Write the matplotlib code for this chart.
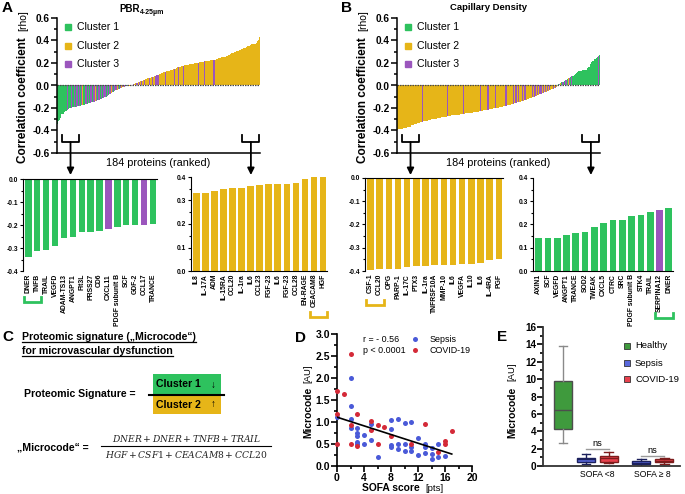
"""Proteomic signature figure: ranked correlations (A, B), microcode
definition (C), microcode vs SOFA (D) and microcode by group (E)."""
import numpy as np
import matplotlib
matplotlib.use('Agg')
import matplotlib.pyplot as plt
from matplotlib.lines import Line2D
from matplotlib.patches import Rectangle
from matplotlib.ticker import MultipleLocator, FormatStrFormatter
from matplotlib.transforms import blended_transform_factory

plt.rcParams['font.family'] = ['Liberation Sans', 'DejaVu Sans']
plt.rcParams['font.weight'] = 'bold'
plt.rcParams['axes.unicode_minus'] = False
# serif italic (non-bold) maths for the microcode formula
plt.rcParams['mathtext.it'] = 'DejaVu Serif:style=italic:weight=normal'
plt.rcParams['mathtext.rm'] = 'DejaVu Serif:weight=normal'

W, H = 685, 494

GREEN = '#2ec25e'
YELLOW = '#e6b518'
PURPLE = '#9b56bd'
CLUSTER_COL = {'G': GREEN, 'Y': YELLOW, 'P': PURPLE}

# ---- Panel A: 184 proteins ranked by rho vs PBR ----
A_RHO = [
    -0.34, -0.315, -0.31, -0.29, -0.255, -0.25, -0.232, -0.23, -0.226, -0.216, -0.21, -0.202, -0.2, -0.199, -0.195,
    -0.19, -0.19, -0.188, -0.185, -0.183, -0.18, -0.178, -0.175, -0.172, -0.17, -0.168, -0.165, -0.162, -0.16, -0.158,
    -0.155, -0.15, -0.147, -0.143, -0.14, -0.137, -0.133, -0.13, -0.127, -0.122, -0.118, -0.113, -0.108, -0.103, -0.098,
    -0.092, -0.085, -0.078, -0.072, -0.066, -0.06, -0.054, -0.048, -0.043, -0.038, -0.033, -0.028, -0.024, -0.02, -0.016,
    -0.013, -0.01, -0.008, -0.006, -0.004, -0.002, 0.002, 0.005, 0.008, 0.012, 0.016, 0.02, 0.024, 0.028, 0.032,
    0.036, 0.04, 0.044, 0.048, 0.052, 0.056, 0.06, 0.064, 0.068, 0.07, 0.072, 0.074, 0.076, 0.08, 0.085,
    0.09, 0.095, 0.1, 0.105, 0.11, 0.114, 0.118, 0.121, 0.124, 0.127, 0.13, 0.132, 0.134, 0.136, 0.14,
    0.143, 0.147, 0.15, 0.155, 0.16, 0.163, 0.166, 0.17, 0.173, 0.176, 0.178, 0.18, 0.182, 0.184, 0.186,
    0.188, 0.19, 0.192, 0.194, 0.196, 0.198, 0.2, 0.202, 0.204, 0.206, 0.208, 0.21, 0.212, 0.214, 0.216,
    0.218, 0.22, 0.221, 0.222, 0.223, 0.224, 0.225, 0.226, 0.228, 0.232, 0.236, 0.24, 0.243, 0.246, 0.25,
    0.252, 0.254, 0.256, 0.258, 0.262, 0.268, 0.275, 0.282, 0.288, 0.293, 0.297, 0.3, 0.303, 0.306, 0.309,
    0.312, 0.316, 0.32, 0.325,
    0.33, 0.33, 0.34, 0.35, 0.352, 0.355, 0.363, 0.367, 0.369, 0.37, 0.372, 0.376, 0.393, 0.40, 0.43,
]
A_CLUSTER = (
    "GGGGGGGGGPGGGPG" "PGPPGPGPYGPPGPG" "PPGPYPGPPGPGPPG" "PGPPYPGPPYPGPYP"
    "YPGPYYPPYPYYPYP" "YPYYPYYYPYYPYYP" "PPYYYYYYPYYYYYY" "YPYYYPYYYPYYYYY"
    "YYYYYYYYPYYYYPY" "YYYYYYPPYYYYYYY" "YYYYYYYYYYYYYYY" "YYYY" "YYYYYYYYYYYYYYY"
)

# ---- Panel B: 184 proteins ranked by rho vs capillary density ----
B_RHO = [
    -0.397, -0.39, -0.39, -0.39, -0.383, -0.378, -0.378, -0.376, -0.375, -0.373, -0.37, -0.368, -0.367, -0.353, -0.347,
    -0.345, -0.342, -0.34, -0.337, -0.334, -0.33, -0.327, -0.325, -0.322, -0.32, -0.318, -0.315, -0.313, -0.31, -0.307,
    -0.305, -0.302, -0.3, -0.298, -0.296, -0.294, -0.292, -0.29, -0.288, -0.286, -0.284, -0.282, -0.28, -0.278, -0.276,
    -0.274, -0.272, -0.27, -0.268, -0.266, -0.265, -0.264, -0.263, -0.262, -0.261, -0.26, -0.258, -0.256, -0.254, -0.252,
    -0.25, -0.249, -0.248, -0.247, -0.246, -0.245, -0.244, -0.243, -0.242, -0.24, -0.238, -0.236, -0.234, -0.232, -0.23,
    -0.228, -0.226, -0.224, -0.222, -0.22, -0.218, -0.216, -0.214, -0.212, -0.21, -0.208, -0.206, -0.204, -0.202, -0.2,
    -0.198, -0.196, -0.194, -0.192, -0.19, -0.188, -0.186, -0.184, -0.182, -0.18, -0.177, -0.174, -0.171, -0.168, -0.165,
    -0.162, -0.158, -0.155, -0.152, -0.149, -0.146, -0.143, -0.14, -0.137, -0.134, -0.131, -0.128, -0.125, -0.122, -0.118,
    -0.114, -0.11, -0.106, -0.102, -0.098, -0.094, -0.09, -0.086, -0.082, -0.078, -0.074, -0.07, -0.066, -0.062, -0.058,
    -0.054, -0.05, -0.046, -0.042, -0.038, -0.034, -0.03, -0.025, -0.018, -0.01, 0.004, 0.01, 0.016, 0.022, 0.028,
    0.034, 0.04, 0.046, 0.052, 0.058, 0.064, 0.07, 0.076, 0.082, 0.088, 0.094, 0.1, 0.11, 0.12, 0.125,
    0.128, 0.13, 0.133, 0.136,
    0.14, 0.14, 0.142, 0.155, 0.165, 0.168, 0.19, 0.205, 0.218, 0.22, 0.235, 0.243, 0.252, 0.262, 0.272,
]
B_CLUSTER = (
    "YYYYYYYYYYYYYYY" "YYYYYYYYPYYYYYY" "YYYYYYYYYYYYYYY" "PYYYYYYYYYYYYYY"
    "PYYYYYYYYYYYYYY" "PYYYYYYPYYYYYYP" "YYYYYYYYPPYYYYY" "PYPPYPYYPYPPYYY"
    "YYPYPPYPYPPYPYP" "YPYPYYPYPYPGPYG" "PGPPGYPGPGGGGGG" "GGGG" "GGGGGGGGGGGGGPG"
)

# ---- zoomed-in top/bottom 15 proteins ----
A_LOW_NAMES = ['DNER', 'TNFB', 'TRAIL', 'VEGFD', 'ADAM-TS13', 'ANGPT1', 'Flt3L', 'PRSS27',
               'CD6', 'CXCL11', 'PDGF subunit B', 'SCF', 'GDF-2', 'CCL17', 'TRANCE']
A_LOW_RHO = [-0.34, -0.315, -0.31, -0.29, -0.255, -0.25, -0.232, -0.23, -0.226, -0.216,
             -0.21, -0.202, -0.2, -0.199, -0.195]
A_LOW_CLUSTER = "GGGGGGGGGPGGGPG"

A_HIGH_NAMES = ['IL8', 'IL-17A', 'ADM', 'IL-15RA', 'CCL20', 'IL-1ra', 'IL6', 'CCL23', 'FGF-23',
                'IL6', 'FGF-23', 'CCL28', 'EN-RAGE', 'CEACAM8', 'HGF']
A_HIGH_RHO = [0.33, 0.33, 0.34, 0.35, 0.352, 0.355, 0.363, 0.367, 0.369, 0.37, 0.372,
              0.376, 0.393, 0.40, 0.40]
A_HIGH_CLUSTER = "YYYYYYYYYYYYYYY"

B_LOW_NAMES = ['CSF-1', 'CCL20', 'OPG', 'PARP-1', 'IL-17C', 'PTX3', 'IL-1ra', 'TNFRSF10A',
               'MMP-10', 'IL6', 'VEGFA', 'IL10', 'IL6', 'IL-4RA', 'PGF']
B_LOW_RHO = [-0.397, -0.39, -0.39, -0.39, -0.383, -0.378, -0.378, -0.376, -0.375, -0.373,
             -0.37, -0.368, -0.367, -0.353, -0.347]
B_LOW_CLUSTER = "YYYYYYYYYYYYYYY"

B_HIGH_NAMES = ['AXIN1', 'SCF', 'VEGFD', 'ANGPT1', 'TRANCE', 'SOD2', 'TWEAK', 'CXCL5', 'CTRC',
                'SRC', 'PDGF subunit B', 'STK4', 'TRAIL', 'SERPINA12', 'DNER']
B_HIGH_RHO = [0.14, 0.14, 0.142, 0.155, 0.165, 0.168, 0.19, 0.205, 0.218, 0.22, 0.235,
              0.243, 0.252, 0.262, 0.272]
B_HIGH_CLUSTER = "GGGGGGGGGGGGGPG"

# ---- Panel D: microcode vs SOFA ----
SEPSIS_SOFA = [0, 2, 2, 2, 2, 3, 3, 3, 3, 3, 4, 4, 5, 5, 6, 8, 8, 8, 8, 9, 9, 9, 10, 10, 10,
               11, 11, 11, 12, 12, 13, 13, 13, 14, 14, 14, 15, 15, 16]
SEPSIS_MC = [1.12, 2.0, 1.37, 1.06, 0.87, 0.87, 0.75, 0.68, 0.55, 0.5, 0.7, 0.51, 0.95, 0.6,
             0.2, 1.04, 0.85, 0.48, 0.43, 1.06, 0.49, 0.39, 0.98, 0.49, 0.34, 1.01, 0.43, 0.33,
             0.64, 0.24, 0.51, 0.43, 0.3, 0.4, 0.27, 0.16, 0.5, 0.2, 0.22]
COVID_SOFA = [0, 1, 0, 0, 2, 2, 2, 3, 3, 5, 5, 6, 6, 7, 8, 11, 13, 15, 16, 16, 17]
COVID_MC = [1.71, 1.63, 1.18, 0.49, 2.55, 0.94, 0.49, 1.18, 0.46, 1.02, 0.81, 0.93, 0.51,
            0.89, 0.68, 0.49, 0.96, 0.32, 0.56, 0.49, 0.8]

# ---- Panel E: microcode by group ----
E_POS = [0, 1, 2, 3.4, 4.4]
E_GROUP = ['Healthy', 'Sepsis', 'COVID-19', 'Sepsis', 'COVID-19']
E_LO = [2.7, 0.19, 0.38, 0.0, 0.27]
E_Q1 = [4.3, 0.46, 0.46, 0.27, 0.42]
E_MED = [6.5, 0.75, 0.96, 0.38, 0.61]
E_Q3 = [9.75, 0.96, 1.19, 0.54, 0.77]
E_HI = [13.8, 1.34, 1.61, 0.84, 0.96]
E_FACE = {'Healthy': '#3f9a3d', 'Sepsis': '#5968dc', 'COVID-19': '#e8414d'}
E_EDGE = {'Healthy': '#4d4d4d', 'Sepsis': '#1b205c', 'COVID-19': '#7d1c1c'}


def px_axes(fig, x0, y0, x1, y1):
    return fig.add_axes([x0 / W, 1 - y1 / H, (x1 - x0) / W, (y1 - y0) / H])


def fy(y_px):
    return 1 - y_px / H


def ftext(fig, x_px, y_px, s, **kw):
    return fig.text(x_px / W, fy(y_px), s, **kw)


def ranked_panel(fig, ax, rho, clusters, leg_x):
    x = np.arange(len(rho))
    ax.bar(x, rho, width=1.0, color=[CLUSTER_COL[c] for c in clusters], linewidth=0)
    ax.axhline(0, color='#4a4a4a', lw=0.9, ls=(0, (1.2, 0.8)))
    ax.set_xlim(-0.5, len(rho) - 0.5)
    ax.set_ylim(-0.6, 0.6)
    ax.spines[['top', 'right']].set_visible(False)
    for sp in ax.spines.values():
        sp.set_linewidth(1.1)
    ax.set_xticks([])
    ax.yaxis.set_major_locator(MultipleLocator(0.2))
    ax.yaxis.set_minor_locator(MultipleLocator(0.1))
    ax.yaxis.set_major_formatter(FormatStrFormatter('%.1f'))
    ax.tick_params(axis='y', which='major', length=4, width=1.1, labelsize=7.2, pad=1)
    ax.tick_params(axis='y', which='minor', length=2.5, width=1.1)
    # cluster legend
    for k, (c, ya) in enumerate(zip('GYP', [0.933, 0.795, 0.657])):
        ax.plot([leg_x], [ya], 's', ms=4.8, color=CLUSTER_COL[c], transform=ax.transAxes,
                clip_on=False)
        ax.text(leg_x + 0.045, ya, f'Cluster {k + 1}', transform=ax.transAxes, fontsize=7.6,
                fontweight='normal', va='center', ha='left')
    # brackets and arrows toward the zoomed panels
    tr = blended_transform_factory(ax.transData, fig.transFigure)
    n = len(rho)
    for i0, i1 in [(4, 19.5), (n - 16.5, n - 1)]:
        ax.plot([i0, i0, i1, i1], [fy(135), fy(142), fy(142), fy(135)], color='black',
                lw=1.3, transform=tr, clip_on=False)
        cx = (i0 + i1) / 2
        ax.annotate('', xy=(cx, fy(175)), xytext=(cx, fy(142)), xycoords=tr, textcoords=tr,
                    arrowprops=dict(arrowstyle='-|>', color='black', lw=1.3,
                                    mutation_scale=10, shrinkA=0, shrinkB=0),
                    annotation_clip=False)


def zoom_panel(ax, rho, names, clusters, negative):
    x = np.arange(len(rho))
    ax.bar(x, rho, width=0.72, color=[CLUSTER_COL[c] for c in clusters], linewidth=0)
    ax.set_xlim(-0.6, len(rho) - 0.55)
    if negative:
        ax.set_ylim(-0.4, 0)
        ax.spines[['bottom', 'right']].set_visible(False)
    else:
        ax.set_ylim(0, 0.4)
        ax.spines[['top', 'right']].set_visible(False)
    for sp in ax.spines.values():
        sp.set_linewidth(0.8)
    ax.set_xticks(x)
    ax.set_xticklabels(names, rotation=90, fontsize=4.9, fontweight='bold')
    ax.tick_params(axis='x', length=0, pad=2)
    ax.yaxis.set_major_locator(MultipleLocator(0.1))
    ax.yaxis.set_minor_locator(MultipleLocator(0.05))
    ax.yaxis.set_major_formatter(FormatStrFormatter('%.1f'))
    ax.tick_params(axis='y', which='major', length=2.5, width=0.8, labelsize=4.8, pad=1)
    ax.tick_params(axis='y', which='minor', length=1.5, width=0.8)


def color_bracket(fig, ax, i0, i1, y_px, color):
    tr = blended_transform_factory(ax.transData, fig.transFigure)
    ax.plot([i0 - 0.45, i0 - 0.45, i1 + 0.45, i1 + 0.45],
            [fy(y_px - 5), fy(y_px), fy(y_px), fy(y_px - 5)],
            color=color, lw=2.0, transform=tr, clip_on=False, solid_joinstyle='miter')


def main():
    fig = plt.figure(figsize=(W / 100, H / 100), dpi=100)

    # panel letters
    for s, x, y in [('A', 7, 8), ('B', 346, 8), ('C', 8, 337), ('D', 300, 338), ('E', 502, 337)]:
        ftext(fig, x, y, s, fontsize=11, ha='center', va='center')

    # ---------------- A / B top ranked bars ----------------
    for off, rho, clus in [(0, A_RHO, A_CLUSTER), (340, B_RHO, B_CLUSTER)]:
        ax = px_axes(fig, 57 + off, 18, 260 + off, 153)
        ranked_panel(fig, ax, rho, clus, 0.052)
        ftext(fig, 23 + off, 163, 'Correlation coefficient', rotation=90, fontsize=8.5,
              ha='center', va='bottom')
        ftext(fig, 23 + off, 31, '[rho]', rotation=90, fontsize=7.5, fontweight='normal',
              ha='center', va='bottom')
        ftext(fig, 158 + off, 163, '184 proteins (ranked)', fontsize=7.8, fontweight='normal',
              ha='center', va='center')

    ftext(fig, 140, 9, 'PBR', fontsize=7, ha='right', va='center')
    ftext(fig, 140, 13, '4-25µm', fontsize=5, ha='left', va='center')
    ftext(fig, 489, 8, 'Capillary Density', fontsize=6.8, ha='center', va='center')

    # ---------------- zoomed bottom/top 15 ----------------
    ax = px_axes(fig, 23, 179, 157, 271)
    zoom_panel(ax, A_LOW_RHO, A_LOW_NAMES, A_LOW_CLUSTER, True)
    color_bracket(fig, ax, 0, 1, 302, GREEN)

    ax = px_axes(fig, 191, 177, 327, 271)
    zoom_panel(ax, A_HIGH_RHO, A_HIGH_NAMES, A_HIGH_CLUSTER, False)
    color_bracket(fig, ax, 13, 14, 317, YELLOW)

    ax = px_axes(fig, 365, 178, 503, 271)
    zoom_panel(ax, B_LOW_RHO, B_LOW_NAMES, B_LOW_CLUSTER, True)
    color_bracket(fig, ax, 0, 1, 305, YELLOW)

    ax = px_axes(fig, 533, 178, 673, 271)
    zoom_panel(ax, B_HIGH_RHO, B_HIGH_NAMES, B_HIGH_CLUSTER, False)
    color_bracket(fig, ax, 13, 14, 318, GREEN)

    # ---------------- C: signature definition ----------------
    t1 = ftext(fig, 22, 337, 'Proteomic signature („Microcode“)', fontsize=7.6, va='center')
    t2 = ftext(fig, 22, 351, 'for microvascular dysfunction', fontsize=7.6, va='center')
    ftext(fig, 24, 394, 'Proteomic Signature =', fontsize=7.6, va='center')
    fig.patches.append(Rectangle((153 / W, fy(394)), 68 / W, 20 / H, transform=fig.transFigure,
                                 facecolor=GREEN, edgecolor='none'))
    fig.patches.append(Rectangle((153 / W, fy(414)), 68 / W, 20 / H, transform=fig.transFigure,
                                 facecolor=YELLOW, edgecolor='none'))
    fig.lines.append(Line2D([149 / W, 224 / W], [fy(394.5)] * 2, color='black', lw=1.5,
                            transform=fig.transFigure))
    ftext(fig, 156, 384, 'Cluster 1', fontsize=7.6, va='center')
    ftext(fig, 156, 405, 'Cluster 2', fontsize=7.6, va='center')
    ftext(fig, 213, 385, '↓', fontsize=7, fontweight='normal', va='center', ha='center')
    ftext(fig, 213, 404, '↑', fontsize=7, fontweight='normal', va='center', ha='center')

    ftext(fig, 17, 447, '„Microcode“ =', fontsize=7.6, va='center')
    ftext(fig, 186, 438, r'$DNER + DNER + TNFB + TRAIL$', fontsize=6.6, fontweight='normal',
          ha='center', va='center', math_fontfamily='custom', color='#222222')
    ftext(fig, 186, 454, r'$HGF + CSF1 + CEACAM8 + CCL20$', fontsize=6.6, fontweight='normal',
          ha='center', va='center', math_fontfamily='custom', color='#222222')
    fig.lines.append(Line2D([101 / W, 271 / W], [fy(446)] * 2, color='black', lw=0.8,
                            transform=fig.transFigure))

    # ---------------- D: scatter ----------------
    ax = px_axes(fig, 337, 334, 472, 466)
    ax.scatter(SEPSIS_SOFA, SEPSIS_MC, s=13, color='#4a5ad8', linewidths=0, clip_on=False,
               zorder=3)
    ax.scatter(COVID_SOFA, COVID_MC, s=13, color='#d42a38', linewidths=0, clip_on=False,
               zorder=3)
    xs = np.array(SEPSIS_SOFA + COVID_SOFA, dtype=float)
    ys = np.array(SEPSIS_MC + COVID_MC)
    slope, icpt = np.polyfit(xs, ys, 1)
    xl = np.array([xs.min(), xs.max()])
    ax.plot(xl, icpt + slope * xl, color='black', lw=1.2, zorder=4)
    ax.set_xlim(0, 20)
    ax.set_ylim(0, 3)
    ax.spines[['top', 'right']].set_visible(False)
    for sp in ax.spines.values():
        sp.set_linewidth(1.2)
    ax.xaxis.set_major_locator(MultipleLocator(4))
    ax.xaxis.set_minor_locator(MultipleLocator(2))
    ax.yaxis.set_major_locator(MultipleLocator(0.5))
    ax.yaxis.set_minor_locator(MultipleLocator(0.25))
    ax.yaxis.set_major_formatter(FormatStrFormatter('%.1f'))
    ax.tick_params(which='major', length=4, width=1.2, labelsize=7.5, pad=1)
    ax.tick_params(which='minor', length=2.5, width=1.2)
    ftext(fig, 363, 339, 'r = - 0.56', fontsize=6.4, fontweight='normal', va='center')
    ftext(fig, 363, 350, 'p < 0.0001', fontsize=6.4, fontweight='normal', va='center')
    for y_px, col, lab in [(339, '#4a5ad8', 'Sepsis'), (350, '#d42a38', 'COVID-19')]:
        fig.lines.append(Line2D([415 / W], [fy(y_px)], marker='o', ms=3.6, color=col, mew=0,
                                transform=fig.transFigure))
        ftext(fig, 430, y_px, lab, fontsize=6.4, fontweight='normal', va='center')
    ftext(fig, 308, 438, 'Microcode', rotation=90, fontsize=7.4, ha='center', va='bottom')
    ftext(fig, 308, 383, '[AU]', rotation=90, fontsize=6.8, fontweight='normal', ha='center',
          va='bottom')
    ftext(fig, 420, 488, 'SOFA score', fontsize=7.4, ha='right', va='center')
    ftext(fig, 425, 488, '[pts]', fontsize=6.8, fontweight='normal', ha='left', va='center')

    # ---------------- E: box plots ----------------
    ax = px_axes(fig, 543, 327, 680, 466)
    stats = [dict(whislo=lo, q1=q1, med=md, q3=q3, whishi=hi, label='')
             for lo, q1, md, q3, hi in zip(E_LO, E_Q1, E_MED, E_Q3, E_HI)]
    for st, pos, grp in zip(stats, E_POS, E_GROUP):
        edge = E_EDGE[grp]
        ax.bxp([st], positions=[pos], widths=0.78, showfliers=False, patch_artist=True,
               boxprops=dict(facecolor=E_FACE[grp], edgecolor=edge, lw=1.0),
               medianprops=dict(color=edge, lw=1.0),
               whiskerprops=dict(color='#8a8a8a' if grp == 'Healthy' else edge, lw=1.0),
               capprops=dict(color='#8a8a8a' if grp == 'Healthy' else edge, lw=1.0))
    for (p0, p1), yb, yt in [((E_POS[1], E_POS[2]), 1.92, 2.6), ((E_POS[3], E_POS[4]), 1.15, 1.78)]:
        ax.plot([p0, p1], [yb, yb], color='#9a9a9a', lw=1.0)
        ax.text((p0 + p1) / 2, yt, 'ns', fontsize=6.6, fontweight='normal', ha='center',
                va='center')
    ax.set_xlim(-0.87, 5.09)
    ax.set_ylim(0, 16)
    ax.spines[['top', 'right']].set_visible(False)
    for sp in ax.spines.values():
        sp.set_linewidth(1.3)
        sp.set_color('#333333')
    ax.yaxis.set_major_locator(MultipleLocator(2))
    ax.yaxis.set_minor_locator(MultipleLocator(1))
    ax.tick_params(axis='y', which='major', length=4, width=1.2, labelsize=7.2, pad=1)
    ax.tick_params(axis='y', which='minor', length=2.5, width=1.2)
    ax.set_xticks([(E_POS[1] + E_POS[2]) / 2, (E_POS[3] + E_POS[4]) / 2])
    ax.set_xticklabels(['SOFA <8', 'SOFA ≥ 8'], fontsize=6.2, fontweight='normal')
    ax.tick_params(axis='x', length=0, pad=3)
    for y_px, grp in zip([346, 363, 379], ['Healthy', 'Sepsis', 'COVID-19']):
        fig.lines.append(Line2D([627 / W], [fy(y_px)], marker='s', ms=4.6,
                                markerfacecolor=E_FACE[grp], markeredgecolor='#333333',
                                mew=0.6, transform=fig.transFigure))
        ftext(fig, 635, y_px, grp, fontsize=6.8, fontweight='normal', va='center')
    ftext(fig, 512, 438, 'Microcode', rotation=90, fontsize=7.4, ha='center', va='bottom')
    ftext(fig, 512, 381, '[AU]', rotation=90, fontsize=6.8, fontweight='normal', ha='center',
          va='bottom')

    # underline the C heading
    fig.canvas.draw()
    rend = fig.canvas.get_renderer()
    for t in (t1, t2):
        bb = t.get_window_extent(rend).transformed(fig.transFigure.inverted())
        fig.lines.append(Line2D([bb.x0, bb.x1], [bb.y0 + 0.5 / H] * 2, color='black', lw=0.9,
                                transform=fig.transFigure))

    fig.savefig('out.png', dpi=100, facecolor='white')
    plt.close(fig)


if __name__ == '__main__':
    main()
